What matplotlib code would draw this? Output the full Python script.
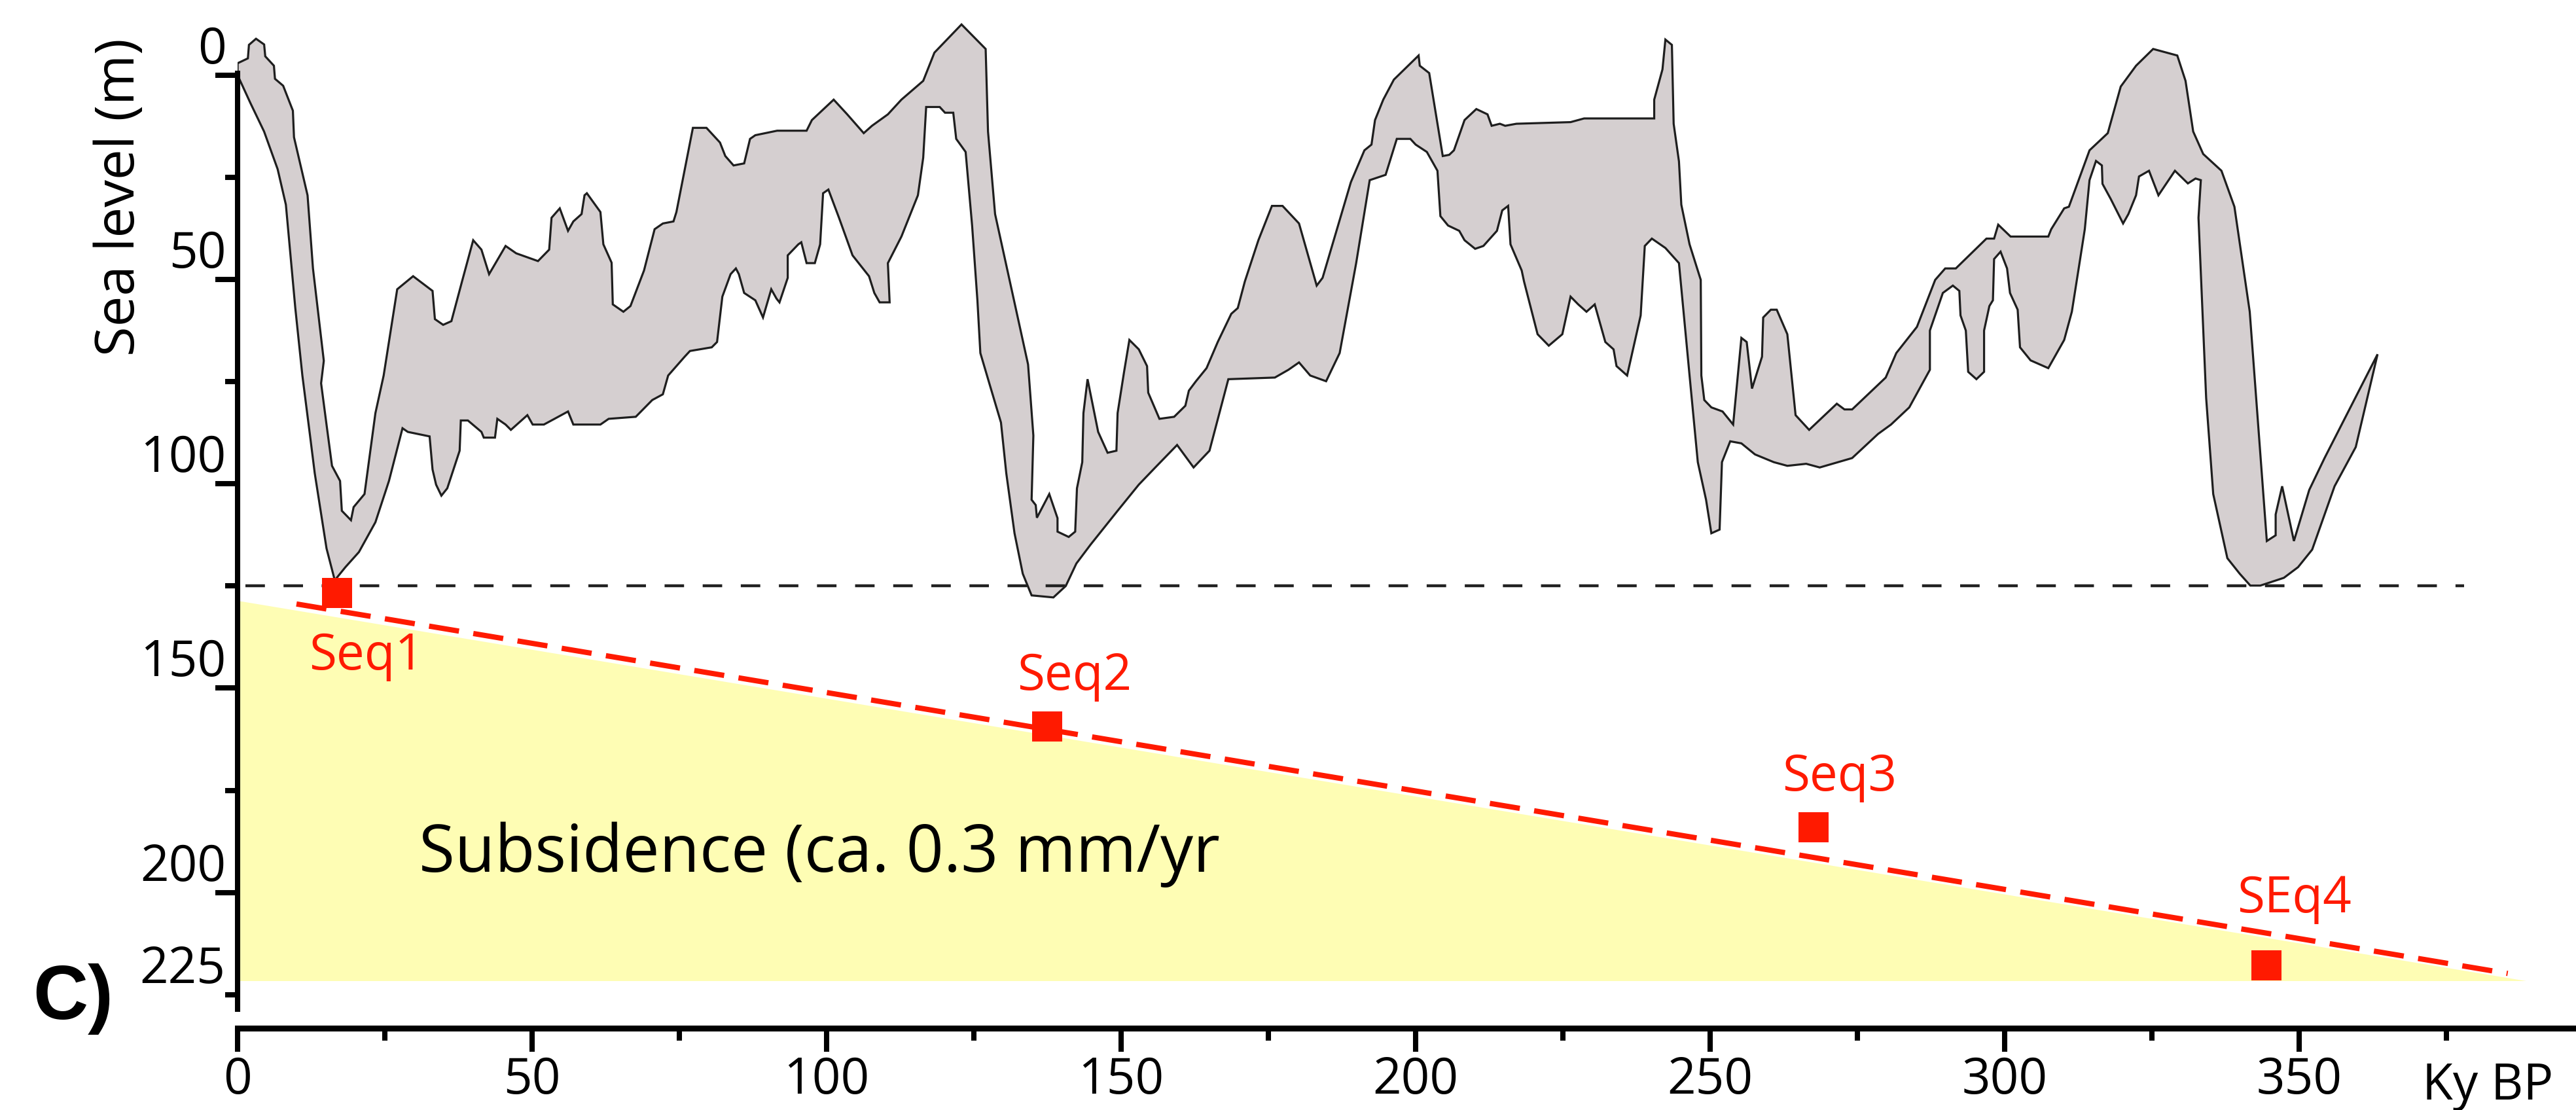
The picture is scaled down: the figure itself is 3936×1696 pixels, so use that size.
import matplotlib
matplotlib.use("Agg")
import matplotlib.pyplot as plt
from matplotlib.ticker import FixedLocator, FixedFormatter, NullFormatter

plt.rcParams['font.family'] = ['Open Sans', 'DejaVu Sans']

# sea-level envelope, shallow edge (age in ky BP, sea level in m below present)
upper_age = [0.0, 1.75, 1.93, 3.13, 4.51, 4.70, 6.17, 6.35, 7.74, 9.39, 9.58, 11.88, 12.80, 14.64, 14.18,
             15.10, 16.03, 17.4, 17.7, 19.25, 19.7, 21.55, 23.4, 24.8, 27.1, 29.8, 33.1, 33.5, 34.9, 36.3,
             38.1, 40.0, 41.4, 42.7, 45.5, 47.3, 51.0, 52.9, 53.3, 54.7, 56.1, 57.0, 58.4, 58.9, 59.3,
             61.6, 62.1, 63.5, 63.7, 65.5, 66.7, 69.0, 70.8, 72.2, 74.0, 74.5, 77.3, 79.6, 81.9, 82.8,
             84.2, 86.0, 87.0, 87.9, 91.6, 96.6, 97.5, 101.2, 103.5, 106.3, 107.7, 110.4, 112.7, 116.4,
             118.3, 122.9, 127.0, 127.4, 128.6, 134.2, 135.1, 134.8, 135.5, 135.7, 137.8, 139.2, 139.2,
             141.1, 142.2, 142.5, 143.4, 143.6, 144.3, 146.1, 147.7, 149.2, 149.4, 150.5, 151.4, 153.0,
             154.4, 154.6, 156.5, 159.0, 160.9, 161.5, 162.7, 164.5, 166.4, 168.7, 169.8, 171.0, 173.3,
             175.6, 177.4, 180.2, 183.2, 184.2, 189.0, 191.3, 192.5, 193.1, 194.5, 196.3, 200.5, 200.7,
             202.3, 204.6, 205.7, 206.5, 208.3, 210.3, 212.2, 212.9, 214.3, 215.2, 217.1, 226.3, 228.6,
             240.5, 240.5, 241.9, 242.4, 243.5, 243.8, 244.7, 245.1, 246.5, 248.4, 248.5, 249.0, 250.2,
             252.1, 253.9, 255.3, 256.2, 257.1, 258.8, 259.0, 260.3, 261.3, 263.1, 264.5, 266.8, 271.5,
             272.8, 274.1, 279.8, 281.6, 285.1, 288.2, 289.9, 291.7, 296.9, 298.2, 298.9, 301.0, 307.4,
             307.9, 310.1, 310.9, 314.4, 317.5, 319.7, 322.3, 325.2, 329.3, 330.7, 332.0, 333.7, 336.8,
             339.0, 341.6, 344.5, 346.0, 346.0, 347.1, 349.1, 351.7, 354.3, 363.3]
upper_sl = [-2.9, -4.1, -7.4, -8.9, -7.5, -4.6, -2.3, 0.9, 2.6, 8.7, 15.2, 29.4, 47.3, 69.9, 75.4,
            85.5, 95.6, 99.3, 106.6, 108.9, 105.7, 102.5, 82.7, 73.5, 52.4, 49.2, 52.8, 59.7, 61.1, 60.2,
            50.5, 40.4, 42.7, 48.7, 41.8, 43.6, 45.5, 42.7, 34.9, 32.6, 38.1, 35.8, 34.0, 29.4, 28.9,
            33.5, 41.4, 45.9, 56.1, 57.9, 56.5, 47.8, 37.7, 36.3, 35.8, 33.5, 12.9, 12.9, 16.5, 19.8,
            22.1, 21.6, 15.6, 14.7, 13.6, 13.6, 11.0, 6.0, 9.6, 14.2, 12.4, 9.6, 6.0, 1.4,
            -5.5, -12.4, -6.4, 13.8, 34.0, 70.8, 88.2, 103.9, 105.2, 108.3, 102.5, 108.4, 111.7,
            113.0, 111.7, 101.1, 94.7, 82.7, 74.4, 87.3, 92.4, 91.9, 82.7, 72.6, 64.8, 67.1,
            71.2, 77.7, 84.1, 83.6, 80.9, 77.2, 74.9, 71.7, 65.3, 58.4, 57.0, 50.5, 40.4,
            32.0, 32.0, 36.3, 51.5, 49.6, 26.2, 18.4, 17.0, 11.0, 6.0, 1.1, -4.8, -2.3,
            -0.5, 19.8, 19.5, 18.4, 11.0, 8.3, 9.6, 12.4, 11.9, 12.4, 11.9, 11.5, 10.6,
            10.6, 6.0, -1.4, -8.7, -7.4, 11.9, 21.1, 31.7, 41.4, 50.1, 73.5, 79.5, 81.3,
            82.3, 85.5, 64.3, 65.3, 76.7, 68.9, 59.3, 57.4, 57.4, 63.4, 83.2, 86.8, 80.4,
            81.8, 81.8, 74.0, 68.0, 61.6, 50.1, 47.3, 47.3, 40.0, 40.0, 36.6, 39.5, 39.5,
            37.7, 32.6, 32.2, 18.4, 14.2, 2.8, -2.3, -6.4, -4.8, 1.4, 13.8, 19.3, 23.4,
            32.2, 57.9, 114.0, 112.6, 107.5, 100.6, 114.0, 101.5, 93.7, 68.3]

# sea-level envelope, deep edge
lower_age = [0.0, 0.0, 2.2, 4.5, 6.8, 8.2, 9.8, 11.0, 12.3, 13.1, 15.1, 16.5, 18.3, 20.6, 23.4, 25.7,
             28.0, 28.9, 32.6, 33.1, 33.7, 34.6, 35.6, 37.7, 37.9, 39.1, 41.4, 41.8, 43.7, 44.1, 45.5,
             46.4, 49.2, 50.1, 52.0, 53.8, 56.1, 57.0, 61.6, 63.0, 67.6, 70.4, 72.2, 73.1, 75.9, 76.8,
             80.5, 81.4, 82.3, 83.7, 84.6, 85.1, 86.0, 87.9, 89.2, 90.6, 91.5, 92.0, 93.4, 93.4, 95.2,
             95.7, 96.6, 98.0, 98.9, 99.4, 100.3, 102.1, 104.4, 107.2, 108.1, 109.0, 110.7, 110.4,
             112.7, 115.5, 116.4, 116.9, 119.2, 120.1, 121.5, 122.0, 123.6, 124.7, 125.6, 126.1, 127.7,
             129.6, 130.5, 131.9, 133.3, 134.8, 138.5, 140.6, 142.4, 144.8, 149.4, 153.0, 155.8, 159.5,
             162.3, 165.0, 168.2, 176.1, 178.4, 180.2, 182.1, 184.8, 187.1, 189.9, 192.2, 194.9, 196.8,
             199.1, 200.0, 201.9, 203.7, 204.2, 205.5, 207.4, 208.3, 210.1, 211.5, 213.8, 214.7, 215.7,
             216.1, 218.0, 218.4, 220.7, 222.6, 224.9, 226.3, 227.6, 229.0, 230.4, 232.2, 233.6, 234.1,
             235.9, 236.9, 238.2, 238.9, 240.1, 242.4, 244.7, 246.5, 247.9, 249.3, 250.2, 251.6, 252.0,
             253.4, 255.3, 257.6, 260.8, 263.1, 266.3, 268.6, 274.1, 278.5, 280.7, 283.8, 287.3, 287.3,
             289.5, 291.2, 292.3, 292.5, 293.4, 293.8, 295.2, 296.5, 296.5, 297.4, 298.0, 298.2, 299.3,
             300.4, 300.9, 302.2, 302.6, 304.4, 307.4, 310.1, 311.4, 312.7, 313.6, 314.4, 315.5, 316.5,
             316.6, 318.0, 320.1, 321.0, 322.3, 322.8, 324.5, 326.1, 328.9, 331.1, 332.4, 333.3, 332.9,
             334.2, 335.4, 337.8, 339.9, 341.7, 343.4, 347.4, 349.8, 352.2, 356.0, 359.6, 363.3]
lower_sl = [-2.9, 0.0, 6.9, 13.8, 23.0, 31.7, 57.0, 73.5, 88.2, 97.4, 115.8, 123.6, 120.4, 116.7, 109.4, 99.3,
            86.4, 87.3, 88.4, 96.5, 100.2, 102.9, 101.1, 91.9, 84.5, 84.5, 87.3, 88.7, 88.7, 84.1, 85.5,
            86.8, 83.2, 85.5, 85.5, 84.1, 82.3, 85.5, 85.5, 84.1, 83.6, 79.5, 78.1, 73.5, 68.9, 67.5,
            66.6, 65.3, 54.2, 48.7, 47.3, 48.7, 53.3, 55.1, 59.3, 52.4, 54.7, 55.6, 49.6, 44.1, 41.4,
            40.9, 46.0, 46.0, 41.4, 28.9, 28.0, 34.9, 44.1, 49.2, 53.3, 55.6, 55.6, 46.0,
            39.5, 29.4, 20.2, 7.8, 7.8, 9.2, 9.2, 15.6, 18.8, 36.8, 55.1, 68.0, 75.8,
            85.0, 97.4, 112.1, 122.0, 127.3, 127.8, 125.0, 119.5, 114.9, 106.6, 100.2, 96.0, 90.5,
            96.0, 91.9, 74.4, 74.0, 72.1, 70.3, 73.5, 74.9, 68.0, 46.0, 25.7, 24.4, 15.6,
            15.6, 17.0, 18.8, 23.4, 34.5, 36.8, 38.1, 40.4, 42.5, 41.8, 38.1, 33.1, 32.0,
            41.4, 47.8, 50.5, 63.4, 66.2, 63.4, 54.2, 56.1, 57.9, 56.1, 65.3, 67.1, 71.2,
            73.5, 67.1, 58.8, 41.8, 40.0, 42.3, 46.0, 73.5, 94.7, 103.9, 112.1, 111.2, 94.7,
            89.6, 90.1, 92.8, 94.7, 95.6, 95.1, 96.0, 93.7, 87.8, 85.5, 81.3, 72.1, 62.5,
            53.3, 51.5, 52.8, 58.8, 62.5, 72.6, 74.4, 72.6, 62.5, 56.5, 55.1, 45.0, 43.2,
            47.3, 53.3, 57.4, 66.6, 69.8, 71.7, 64.8, 57.9, 46.0, 37.7, 25.7, 21.0, 22.1,
            26.6, 30.3, 36.3, 34.0, 29.4, 24.8, 23.4, 29.4, 23.4, 26.5, 25.3, 25.7, 34.9,
            79.0, 102.5, 118.2, 122.0, 124.9, 124.9, 123.0, 120.4, 116.1, 100.6, 91.0, 68.3]

# lowstand reference level
lowstand_level = 125.0
lowstand_span = [1.3, 378.0]

# subsidence wedge and trend line
wedge_age = [0.0, 0.0, 388.6]
wedge_depth = [128.6, 221.6, 221.6]
trend_age = [10.0, 385.4]
trend_depth = [129.4, 219.8]

# dated sequences
seq_names = ['Seq1', 'Seq2', 'Seq3', 'SEq4']
seq_age = [16.9, 137.4, 267.6, 344.4]
seq_depth = [126.7, 159.3, 184.1, 217.8]
seq_label_age = [21.9, 142.1, 271.9, 349.2]
seq_label_depth = [145.4, 150.4, 175.0, 204.8]

x_major = [0, 50, 100, 150, 200, 250, 300, 350]
x_minor = [25, 75, 125, 175, 225, 275, 325, 375]
y_major = [0, 50, 100, 150, 200]
y_minor = [25, 75, 125, 175, 225]
y_minor_labels = ['', '', '', '', '225']

red = '#ff1a00'

fig = plt.figure(figsize=(39.37, 16.96), dpi=100)
ax = fig.add_axes([363 / 3937, 0.0737, 1 - 363 / 3937, 0.9263])

ax.fill(wedge_age, wedge_depth, color='#fefdb4', lw=0, zorder=1)
ax.fill(upper_age + lower_age[::-1], upper_sl + lower_sl[::-1],
        facecolor='#d5cfd0', edgecolor='#1e1e1e', lw=2.3, zorder=2)
ax.plot(lowstand_span, [lowstand_level, lowstand_level], color='#222222', lw=3.2,
        dashes=(6.7, 6.4), dash_capstyle='butt', zorder=3)
ax.plot(trend_age, trend_depth, color=red, lw=5.8, dashes=(5.75, 2.75),
        dash_capstyle='butt', zorder=4)
ax.plot(seq_age, seq_depth, 's', color=red, ms=33, mew=0, zorder=5)
for name, xa, ya in zip(seq_names, seq_label_age, seq_label_depth):
    ax.text(xa, ya, name, color=red, fontsize=55, ha='center', va='baseline', zorder=6)

ax.text(30.8, 194.9, 'Subsidence (ca. 0.3 mm/yr', fontsize=72, ha='left', va='baseline', zorder=6)

ax.set_xlim(0, 397.1)
ax.set_ylim(233.2, -18.38)

for side in ['top', 'right']:
    ax.spines[side].set_visible(False)
ax.spines['left'].set_linewidth(5.8)
ax.spines['left'].set_bounds(-0.5, 228.5)
ax.spines['bottom'].set_linewidth(6.5)
ax.spines['bottom'].set_bounds(0, 397.1)

ax.xaxis.set_major_locator(FixedLocator(x_major))
ax.xaxis.set_minor_locator(FixedLocator(x_minor))
ax.xaxis.set_minor_formatter(NullFormatter())
ax.yaxis.set_major_locator(FixedLocator(y_major))
ax.yaxis.set_minor_locator(FixedLocator(y_minor))
ax.yaxis.set_minor_formatter(FixedFormatter(y_minor_labels))

ax.tick_params(axis='y', which='major', length=24.5, width=5.8, pad=-12, labelsize=55)
ax.tick_params(axis='y', which='minor', length=13.7, width=5.8, pad=0, labelsize=55)
ax.tick_params(axis='x', which='major', length=26, width=5.8, pad=4, labelsize=55)
ax.tick_params(axis='x', which='minor', length=14, width=5.8)
for lab in ax.get_yticklabels(which='both'):
    lab.set_verticalalignment('bottom')

fig.text(184 / 3937, 0.8225, 'Sea level (m)', rotation=90, fontsize=60, ha='center', va='center')
fig.text(3801 / 3937, 16 / 1696, 'Ky BP', fontsize=55, ha='center', va='baseline')
fig.text(50 / 3937, 139 / 1696, 'C)', fontsize=84, fontweight='bold',
         family=['Liberation Sans', 'DejaVu Sans'], ha='left', va='baseline')

fig.savefig('out.png', dpi=100)
